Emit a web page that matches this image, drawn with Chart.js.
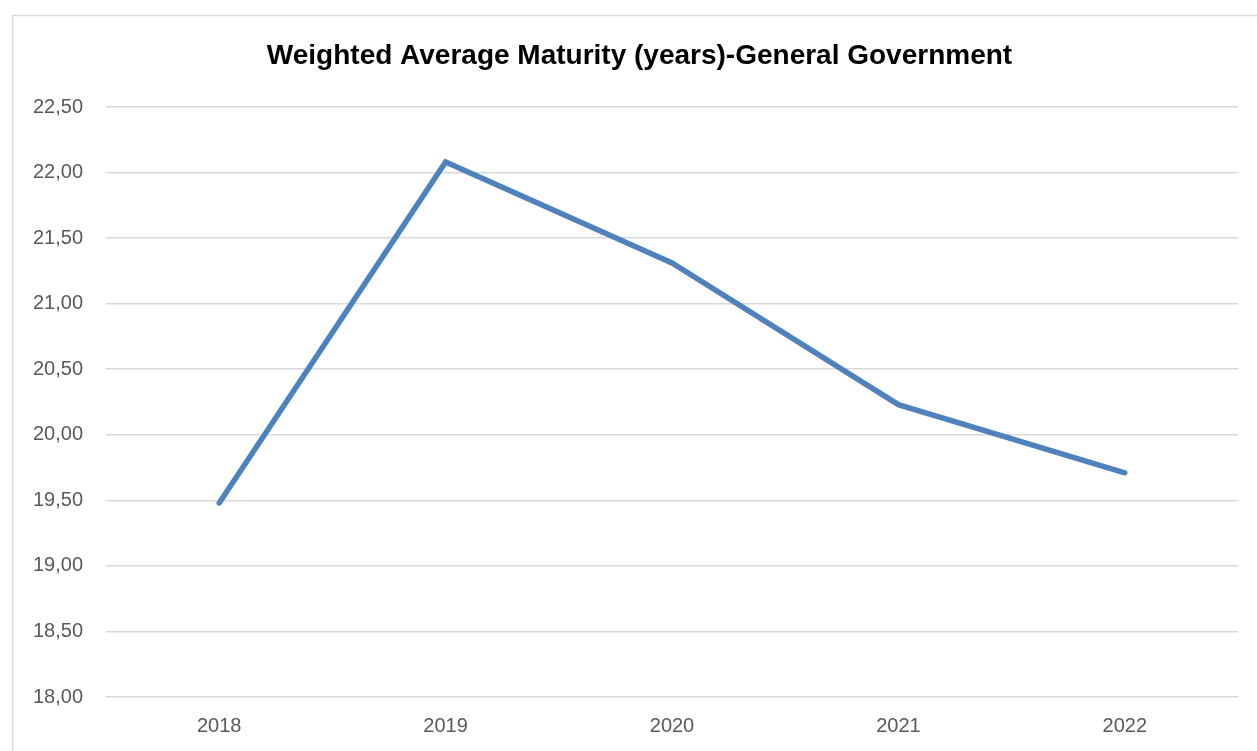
<!DOCTYPE html>
<html>
<head>
<meta charset="utf-8">
<script src="https://cdn.jsdelivr.net/npm/chart.js@4/dist/chart.umd.min.js"></script>
<style>
  html, body { margin: 0; padding: 0; background: #ffffff; }
  #wrap { width: 1257px; height: 751px; position: relative; }
</style>
</head>
<body>
<div id="wrap"><canvas id="c" width="1257" height="751"></canvas></div>
<script>
const titleText = "Weighted Average Maturity (years)-General Government";
const categories = ["2018", "2019", "2020", "2021", "2022"];
const maturityYears = [19.48, 22.08, 21.31, 20.23, 19.71];
const yMin = 18.0;
const yMax = 22.5;
const yStep = 0.5;

const frameAndTitle = {
  id: 'frameAndTitle',
  beforeDraw(chart) {
    const ctx = chart.ctx;
    ctx.save();
    ctx.fillStyle = '#ffffff';
    ctx.fillRect(0, 0, chart.width, chart.height);
    ctx.strokeStyle = '#d9d9d9';
    ctx.lineWidth = 1.5;
    ctx.strokeRect(12.5, 15.5, 1400, 900);
    ctx.restore();
  },
  afterDraw(chart) {
    const ctx = chart.ctx;
    ctx.save();
    ctx.fillStyle = '#000000';
    ctx.font = 'bold 28px "Liberation Sans", Arial, sans-serif';
    ctx.textAlign = 'center';
    ctx.textBaseline = 'middle';
    ctx.fillText(titleText, 639.5, 56);
    ctx.restore();
  }
};

new Chart(document.getElementById('c'), {
  type: 'line',
  data: {
    labels: categories,
    datasets: [{
      label: 'WAM',
      data: maturityYears,
      borderColor: '#4F81BD',
      backgroundColor: '#4F81BD',
      borderWidth: 5.5,
      pointRadius: 0,
      tension: 0,
      borderCapStyle: 'round',
      borderJoinStyle: 'miter',
      fill: false
    }]
  },
  options: {
    responsive: false,
    animation: false,
    devicePixelRatio: 1,
    layout: { padding: { top: 107, left: 12, right: 19, bottom: 0 } },
    plugins: {
      legend: { display: false },
      title: { display: false },
      tooltip: { enabled: false }
    },
    scales: {
      x: {
        offset: true,
        grid: { display: false, drawTicks: false },
        border: { display: false },
        ticks: {
          color: '#595959',
          font: { family: '"Liberation Sans", Arial, sans-serif', size: 20 },
          padding: 17
        },
        afterFit(scale) { scale.height = 54; }
      },
      y: {
        min: yMin,
        max: yMax,
        grid: { color: '#d9d9d9', lineWidth: 1.5, drawTicks: false },
        border: { display: false },
        ticks: {
          stepSize: yStep,
          color: '#595959',
          font: { family: '"Liberation Sans", Arial, sans-serif', size: 20 },
          padding: 23,
          callback: (v) => Number(v).toFixed(2).replace('.', ',')
        },
        afterFit(scale) { scale.width = 94; }
      }
    }
  },
  plugins: [frameAndTitle]
});
</script>
</body>
</html>
